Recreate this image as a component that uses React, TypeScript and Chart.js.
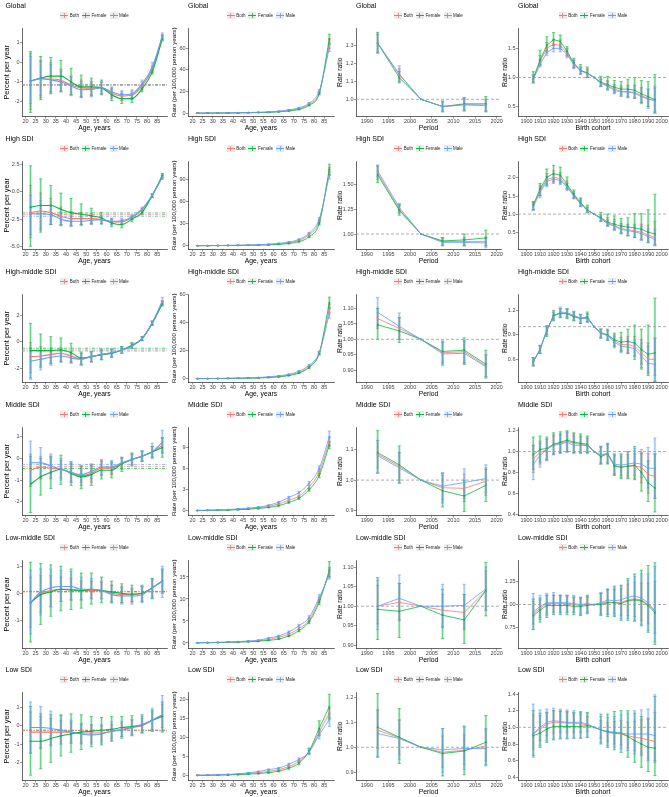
import React, { useEffect, useRef } from "react";
import { Chart, registerables } from "chart.js";
Chart.register(...registerables);

// ---------------- shared categories / ticks ----------------
const ageMid = [22.5, 27.5, 32.5, 37.5, 42.5, 47.5, 52.5, 57.5, 62.5, 67.5, 72.5, 77.5, 82.5, 87.5];
const periodMid = [1992.5, 1997.5, 2002.5, 2007.5, 2012.5, 2017.5];
const cohortMid = [1905, 1910, 1915, 1920, 1925, 1930, 1935, 1940, 1945, 1950, 1955, 1960, 1965, 1970, 1975, 1980, 1985, 1990, 1995];
const ageTicks = [20, 25, 30, 35, 40, 45, 50, 55, 60, 65, 70, 75, 80, 85];
const periodTicks = [1990, 1995, 2000, 2005, 2010, 2015, 2020];
const cohortTicks = [1900, 1910, 1920, 1930, 1940, 1950, 1960, 1970, 1980, 1990, 2000];
const regionNames = ["Global", "High SDI", "High-middle SDI", "Middle SDI", "Low-middle SDI", "Low SDI"];
const seriesNames = ["Both", "Female", "Male"];
const refRatio = 1;

// ---------------- GLOBAL ----------------
const globalDriftRange = [-2.76, 1.75];
const globalDriftTicks = [-2, -1, 0, 1];
const globalNetDrift = [-1.15, -1.16, -1.14];
const globalDriftBoth = [-0.95, -0.85, -0.85, -0.92, -1.15, -1.3, -1.32, -1.3, -1.58, -1.72, -1.68, -1.2, -0.35, 1.28];
const globalDriftBothLo = [-2.4, -1.8, -1.55, -1.45, -1.65, -1.75, -1.65, -1.6, -1.85, -1.95, -1.9, -1.4, -0.5, 1.15];
const globalDriftBothHi = [0.45, 0.1, 0.0, -0.35, -0.7, -0.9, -1.0, -1.0, -1.3, -1.5, -1.45, -1.0, -0.2, 1.42];
const globalDriftFemale = [-0.95, -0.8, -0.7, -0.7, -1.0, -1.25, -1.25, -1.3, -1.65, -1.85, -1.85, -1.35, -0.5, 1.2];
const globalDriftFemaleLo = [-2.55, -1.9, -1.6, -1.5, -1.65, -1.8, -1.7, -1.65, -1.95, -2.1, -2.05, -1.5, -0.6, 1.1];
const globalDriftFemaleHi = [0.55, 0.3, 0.25, 0.1, -0.3, -0.65, -0.8, -0.9, -1.35, -1.6, -1.6, -1.15, -0.35, 1.35];
const globalDriftMale = [-0.95, -0.82, -0.9, -1.0, -1.2, -1.4, -1.38, -1.3, -1.5, -1.65, -1.6, -1.1, -0.25, 1.35];
const globalDriftMaleLo = [-2.1, -1.7, -1.5, -1.5, -1.7, -1.75, -1.75, -1.6, -1.75, -1.85, -1.8, -1.3, -0.45, 1.2];
const globalDriftMaleHi = [0.3, 0.05, -0.1, -0.45, -0.75, -1.0, -1.0, -1.0, -1.25, -1.45, -1.4, -0.9, 0.0, 1.5];

const globalAgeRange = [-3, 78.7];
const globalAgeTicks = [0, 20, 40, 60];
const globalAgeBoth = [0.1, 0.15, 0.2, 0.3, 0.4, 0.55, 0.75, 1.0, 1.6, 2.6, 4.2, 8.2, 19, 64];
const globalAgeBothLo = [0.08, 0.12, 0.17, 0.26, 0.35, 0.5, 0.7, 0.9, 1.45, 2.4, 3.9, 7.6, 17.8, 60];
const globalAgeBothHi = [0.12, 0.18, 0.23, 0.34, 0.45, 0.6, 0.8, 1.1, 1.75, 2.8, 4.5, 8.8, 20.2, 69];
const globalAgeFemale = [0.08, 0.12, 0.17, 0.25, 0.35, 0.45, 0.6, 0.85, 1.3, 2.1, 3.5, 7.4, 18.2, 68.5];
const globalAgeFemaleLo = [0.06, 0.1, 0.14, 0.21, 0.3, 0.4, 0.55, 0.75, 1.15, 1.9, 3.2, 6.8, 17, 64];
const globalAgeFemaleHi = [0.1, 0.14, 0.2, 0.29, 0.4, 0.5, 0.65, 0.95, 1.45, 2.3, 3.8, 8.0, 19.4, 73];
const globalAgeMale = [0.12, 0.18, 0.25, 0.35, 0.5, 0.65, 0.9, 1.2, 1.9, 3.1, 5.0, 9.2, 20.5, 60];
const globalAgeMaleLo = [0.1, 0.15, 0.21, 0.3, 0.44, 0.58, 0.82, 1.1, 1.75, 2.85, 4.6, 8.5, 19.2, 57];
const globalAgeMaleHi = [0.14, 0.21, 0.29, 0.4, 0.56, 0.72, 0.98, 1.3, 2.05, 3.35, 5.4, 9.9, 21.8, 64];

const globalPeriodRange = [0.905, 1.394];
const globalPeriodTicks = [1.0, 1.1, 1.2, 1.3];
const globalPeriodBoth = [1.31, 1.135, 1.0, 0.96, 0.97, 0.965];
const globalPeriodBothLo = [1.26, 1.1, 1.0, 0.935, 0.94, 0.935];
const globalPeriodBothHi = [1.36, 1.17, 1.0, 0.985, 1.005, 1.0];
const globalPeriodFemale = [1.31, 1.12, 1.0, 0.96, 0.975, 0.975];
const globalPeriodFemaleLo = [1.255, 1.09, 1.0, 0.93, 0.935, 0.93];
const globalPeriodFemaleHi = [1.37, 1.155, 1.0, 0.99, 1.01, 1.015];
const globalPeriodMale = [1.31, 1.14, 1.0, 0.96, 0.97, 0.968];
const globalPeriodMaleLo = [1.26, 1.1, 1.0, 0.935, 0.94, 0.935];
const globalPeriodMaleHi = [1.36, 1.185, 1.0, 0.99, 1.005, 1.0];

const globalCohortRange = [0.33, 1.85];
const globalCohortTicks = [0.5, 1.0, 1.5];
const globalCohortBoth = [0.97, 1.27, 1.5, 1.57, 1.55, 1.42, 1.23, 1.12, 1.07, 1.0, 0.9, 0.86, 0.8, 0.76, 0.76, 0.74, 0.69, 0.64, 0.6];
const globalCohortBothLo = [0.92, 1.2, 1.42, 1.5, 1.48, 1.36, 1.17, 1.06, 1.0, 1.0, 0.85, 0.8, 0.73, 0.68, 0.66, 0.64, 0.57, 0.5, 0.42];
const globalCohortBothHi = [1.05, 1.38, 1.6, 1.66, 1.65, 1.5, 1.3, 1.18, 1.15, 1.0, 0.98, 0.95, 0.88, 0.86, 0.87, 0.87, 0.83, 0.8, 0.82];
const globalCohortFemale = [0.98, 1.3, 1.55, 1.65, 1.62, 1.45, 1.25, 1.12, 1.08, 1.0, 0.92, 0.88, 0.83, 0.8, 0.8, 0.78, 0.72, 0.67, 0.62];
const globalCohortFemaleLo = [0.92, 1.22, 1.45, 1.55, 1.52, 1.38, 1.17, 1.06, 1.0, 1.0, 0.85, 0.8, 0.75, 0.7, 0.67, 0.65, 0.57, 0.5, 0.4];
const globalCohortFemaleHi = [1.1, 1.47, 1.7, 1.77, 1.73, 1.53, 1.33, 1.22, 1.18, 1.0, 1.02, 1.02, 0.95, 0.93, 0.97, 1.0, 0.95, 0.93, 1.05];
const globalCohortMale = [0.97, 1.22, 1.43, 1.5, 1.5, 1.4, 1.22, 1.12, 1.07, 1.0, 0.9, 0.85, 0.78, 0.75, 0.75, 0.73, 0.67, 0.63, 0.6];
const globalCohortMaleLo = [0.9, 1.18, 1.38, 1.44, 1.44, 1.34, 1.15, 1.06, 1.0, 1.0, 0.84, 0.78, 0.72, 0.67, 0.65, 0.64, 0.55, 0.47, 0.38];
const globalCohortMaleHi = [1.05, 1.3, 1.5, 1.57, 1.57, 1.47, 1.3, 1.18, 1.14, 1.0, 0.97, 0.93, 0.85, 0.83, 0.86, 0.86, 0.82, 0.8, 0.85];

// ---------------- HIGH SDI ----------------
const highDriftRange = [-5.29, 2.84];
const highDriftTicks = [-5, -2.5, 0, 2.5];
const highNetDrift = [-2.08, -1.93, -2.24];
const highDriftBoth = [-1.9, -1.75, -1.9, -2.25, -2.45, -2.45, -2.45, -2.55, -2.75, -2.75, -2.35, -1.65, -0.35, 1.45];
const highDriftBothLo = [-4.2, -3.5, -3.0, -3.1, -3.1, -3.0, -2.95, -2.9, -3.0, -3.0, -2.55, -1.8, -0.5, 1.25];
const highDriftBothHi = [0.6, -0.1, -0.6, -1.4, -1.8, -1.9, -2.0, -2.2, -2.5, -2.5, -2.15, -1.5, -0.2, 1.65];
const highDriftFemale = [-1.4, -1.25, -1.25, -1.6, -1.9, -2.05, -2.2, -2.4, -2.85, -3.0, -2.5, -1.9, -0.35, 1.5];
const highDriftFemaleLo = [-5.0, -3.7, -3.0, -3.0, -3.1, -3.0, -2.9, -2.95, -3.2, -3.3, -2.75, -2.1, -0.5, 1.3];
const highDriftFemaleHi = [2.4, 1.2, 0.6, -0.1, -0.6, -1.1, -1.5, -1.9, -2.5, -2.7, -2.25, -1.7, -0.2, 1.7];
const highDriftMale = [-2.0, -2.0, -2.1, -2.5, -2.7, -2.7, -2.6, -2.55, -2.7, -2.65, -2.3, -1.55, -0.3, 1.35];
const highDriftMaleLo = [-3.9, -3.4, -3.0, -3.1, -3.2, -3.1, -3.0, -2.95, -3.0, -2.95, -2.5, -1.7, -0.45, 1.15];
const highDriftMaleHi = [-0.3, -0.8, -1.2, -1.9, -2.2, -2.3, -2.2, -2.2, -2.4, -2.4, -2.1, -1.4, -0.15, 1.55];

const highAgeRange = [-5.1, 114.3];
const highAgeTicks = [0, 30, 60, 90];
const highAgeBoth = [0.1, 0.15, 0.25, 0.35, 0.5, 0.7, 1, 1.5, 2.5, 4, 7, 15, 33, 100];
const highAgeBothLo = [0.08, 0.13, 0.22, 0.31, 0.45, 0.63, 0.9, 1.35, 2.3, 3.7, 6.5, 14, 31, 95];
const highAgeBothHi = [0.12, 0.17, 0.28, 0.39, 0.55, 0.77, 1.1, 1.65, 2.7, 4.3, 7.5, 16, 35, 106];
const highAgeFemale = [0.08, 0.12, 0.2, 0.3, 0.4, 0.55, 0.8, 1.1, 1.8, 3, 5.5, 12, 30, 103];
const highAgeFemaleLo = [0.06, 0.1, 0.17, 0.26, 0.35, 0.48, 0.7, 1.0, 1.6, 2.7, 5, 11, 28, 96];
const highAgeFemaleHi = [0.1, 0.14, 0.23, 0.34, 0.45, 0.62, 0.9, 1.2, 2.0, 3.3, 6, 13, 32, 110];
const highAgeMale = [0.12, 0.2, 0.3, 0.45, 0.65, 0.9, 1.3, 2, 3.2, 5, 8.5, 17, 36, 95];
const highAgeMaleLo = [0.1, 0.17, 0.26, 0.4, 0.58, 0.8, 1.15, 1.8, 2.9, 4.6, 7.9, 16, 34, 90];
const highAgeMaleHi = [0.14, 0.23, 0.34, 0.5, 0.72, 1.0, 1.45, 2.2, 3.5, 5.4, 9.1, 18, 38, 100];

const highPeriodRange = [0.843, 1.74];
const highPeriodTicks = [1.0, 1.25, 1.5];
const highPeriodBoth = [1.62, 1.25, 1.0, 0.925, 0.925, 0.925];
const highPeriodBothLo = [1.55, 1.21, 1.0, 0.89, 0.885, 0.88];
const highPeriodBothHi = [1.69, 1.29, 1.0, 0.96, 0.965, 0.97];
const highPeriodFemale = [1.6, 1.24, 1.0, 0.93, 0.94, 0.96];
const highPeriodFemaleLo = [1.52, 1.19, 1.0, 0.885, 0.88, 0.88];
const highPeriodFemaleHi = [1.69, 1.3, 1.0, 0.965, 1.0, 1.04];
const highPeriodMale = [1.64, 1.27, 1.0, 0.915, 0.915, 0.91];
const highPeriodMaleLo = [1.58, 1.22, 1.0, 0.88, 0.88, 0.86];
const highPeriodMaleHi = [1.7, 1.31, 1.0, 0.95, 0.95, 0.96];

const highCohortRange = [0.02, 2.47];
const highCohortTicks = [0.5, 1.0, 1.5, 2.0];
const highCohortBoth = [1.23, 1.65, 1.95, 2.02, 1.98, 1.78, 1.52, 1.3, 1.1, 1.0, 0.88, 0.75, 0.68, 0.6, 0.57, 0.54, 0.5, 0.42, 0.35];
const highCohortBothLo = [1.12, 1.5, 1.8, 1.88, 1.85, 1.68, 1.43, 1.22, 1.04, 1.0, 0.8, 0.67, 0.56, 0.46, 0.4, 0.35, 0.3, 0.22, 0.15];
const highCohortBothHi = [1.32, 1.8, 2.12, 2.2, 2.15, 1.92, 1.62, 1.42, 1.2, 1.0, 0.98, 0.9, 0.85, 0.75, 0.72, 0.72, 0.72, 0.7, 0.8];
const highCohortFemale = [1.25, 1.7, 2.02, 2.12, 2.08, 1.82, 1.55, 1.32, 1.12, 1.0, 0.9, 0.78, 0.72, 0.67, 0.64, 0.62, 0.58, 0.5, 0.45];
const highCohortFemaleLo = [1.12, 1.52, 1.8, 1.9, 1.88, 1.7, 1.45, 1.22, 1.05, 1.0, 0.8, 0.68, 0.58, 0.48, 0.4, 0.36, 0.28, 0.22, 0.14];
const highCohortFemaleHi = [1.35, 1.85, 2.25, 2.35, 2.3, 2.03, 1.67, 1.45, 1.25, 1.0, 1.05, 1.0, 0.95, 0.88, 0.9, 1.02, 1.02, 1.12, 1.55];
const highCohortMale = [1.2, 1.6, 1.9, 1.97, 1.93, 1.75, 1.5, 1.28, 1.1, 1.0, 0.87, 0.74, 0.66, 0.58, 0.54, 0.51, 0.46, 0.38, 0.3];
const highCohortMaleLo = [1.1, 1.45, 1.75, 1.85, 1.82, 1.65, 1.42, 1.2, 1.03, 1.0, 0.8, 0.66, 0.55, 0.45, 0.4, 0.35, 0.28, 0.2, 0.12];
const highCohortMaleHi = [1.3, 1.75, 2.05, 2.1, 2.05, 1.85, 1.58, 1.38, 1.18, 1.0, 0.95, 0.85, 0.8, 0.72, 0.7, 0.68, 0.65, 0.6, 0.58];

// ---------------- HIGH-MIDDLE SDI ----------------
const highMidDriftRange = [-3.04, 3.6];
const highMidDriftTicks = [-2, 0, 2];
const highMidNetDrift = [-0.6, -0.47, -0.68];
const highMidDriftBoth = [-1.1, -1.05, -0.95, -0.85, -1.05, -1.25, -1.1, -0.95, -0.85, -0.6, -0.3, 0.25, 1.4, 2.95];
const highMidDriftBothLo = [-2.3, -1.8, -1.65, -1.45, -1.55, -1.7, -1.5, -1.3, -1.15, -0.85, -0.5, 0.1, 1.25, 2.8];
const highMidDriftBothHi = [-0.05, -0.35, -0.45, -0.45, -0.7, -0.85, -0.75, -0.65, -0.55, -0.35, -0.1, 0.4, 1.55, 3.1];
const highMidDriftFemale = [-0.65, -0.65, -0.65, -0.6, -0.8, -1.2, -1.1, -0.95, -0.85, -0.6, -0.25, 0.25, 1.4, 2.85];
const highMidDriftFemaleLo = [-2.7, -1.9, -1.6, -1.5, -1.5, -1.7, -1.5, -1.35, -1.15, -0.85, -0.45, 0.1, 1.25, 2.7];
const highMidDriftFemaleHi = [1.4, 0.6, 0.4, 0.3, -0.1, -0.75, -0.7, -0.55, -0.55, -0.35, -0.05, 0.4, 1.55, 3.05];
const highMidDriftMale = [-1.45, -1.3, -1.15, -1.05, -1.2, -1.3, -1.1, -0.95, -0.8, -0.6, -0.3, 0.25, 1.45, 3.05];
const highMidDriftMaleLo = [-2.8, -2.1, -1.75, -1.5, -1.6, -1.75, -1.5, -1.3, -1.1, -0.85, -0.5, 0.1, 1.3, 2.85];
const highMidDriftMaleHi = [-0.45, -0.65, -0.65, -0.6, -0.85, -0.9, -0.75, -0.6, -0.5, -0.35, -0.1, 0.4, 1.6, 3.35];

const highMidAgeRange = [-2.7, 60.2];
const highMidAgeTicks = [0, 20, 40, 60];
const highMidAgeBoth = [0.07, 0.1, 0.15, 0.22, 0.3, 0.45, 0.65, 1.0, 1.6, 2.6, 4.5, 8.5, 18, 50];
const highMidAgeBothLo = [0.06, 0.08, 0.13, 0.19, 0.26, 0.4, 0.58, 0.9, 1.45, 2.4, 4.1, 7.8, 17, 47];
const highMidAgeBothHi = [0.08, 0.12, 0.17, 0.25, 0.34, 0.5, 0.72, 1.1, 1.75, 2.8, 4.9, 9.2, 19, 53];
const highMidAgeFemale = [0.05, 0.07, 0.12, 0.18, 0.25, 0.35, 0.5, 0.8, 1.3, 2.2, 4, 8, 18, 54];
const highMidAgeFemaleLo = [0.04, 0.06, 0.1, 0.15, 0.22, 0.3, 0.45, 0.7, 1.15, 2.0, 3.6, 7.3, 17, 50];
const highMidAgeFemaleHi = [0.06, 0.09, 0.14, 0.21, 0.3, 0.4, 0.55, 0.9, 1.45, 2.4, 4.4, 8.7, 19, 58];
const highMidAgeMale = [0.09, 0.13, 0.19, 0.28, 0.4, 0.6, 0.85, 1.3, 2.0, 3.1, 5.3, 9.5, 18.5, 46];
const highMidAgeMaleLo = [0.07, 0.11, 0.16, 0.24, 0.35, 0.53, 0.76, 1.15, 1.8, 2.85, 4.9, 8.8, 17.5, 43];
const highMidAgeMaleHi = [0.11, 0.15, 0.22, 0.32, 0.45, 0.67, 0.94, 1.45, 2.2, 3.35, 5.7, 10.2, 19.5, 50];

const highMidPeriodRange = [0.861, 1.146];
const highMidPeriodTicks = [0.9, 0.95, 1.0, 1.05, 1.1];
const highMidPeriodBoth = [1.067, 1.035, 1.0, 0.957, 0.96, 0.915];
const highMidPeriodBothLo = [1.035, 1.0, 1.0, 0.925, 0.925, 0.88];
const highMidPeriodBothHi = [1.1, 1.07, 1.0, 0.99, 0.995, 0.95];
const highMidPeriodFemale = [1.047, 1.027, 1.0, 0.961, 0.965, 0.92];
const highMidPeriodFemaleLo = [1.0, 0.99, 1.0, 0.92, 0.92, 0.875];
const highMidPeriodFemaleHi = [1.1, 1.07, 1.0, 0.995, 1.005, 0.965];
const highMidPeriodMale = [1.087, 1.042, 1.0, 0.953, 0.955, 0.912];
const highMidPeriodMaleLo = [1.04, 1.0, 1.0, 0.915, 0.92, 0.88];
const highMidPeriodMaleHi = [1.135, 1.085, 1.0, 0.99, 0.995, 0.95];

const highMidCohortRange = [0.316, 1.4];
const highMidCohortTicks = [0.6, 0.9, 1.2];
const highMidCohortBoth = [0.57, 0.72, 0.95, 1.13, 1.17, 1.16, 1.13, 1.1, 1.11, 1.0, 0.93, 0.9, 0.83, 0.78, 0.78, 0.76, 0.68, 0.6, 0.6];
const highMidCohortBothLo = [0.52, 0.67, 0.9, 1.08, 1.12, 1.11, 1.08, 1.04, 1.06, 1.0, 0.87, 0.84, 0.76, 0.7, 0.68, 0.64, 0.54, 0.44, 0.4];
const highMidCohortBothHi = [0.62, 0.77, 1.0, 1.18, 1.22, 1.21, 1.18, 1.15, 1.16, 1.0, 0.97, 0.95, 0.9, 0.87, 0.88, 0.88, 0.84, 0.8, 0.86];
const highMidCohortFemale = [0.57, 0.72, 0.95, 1.14, 1.16, 1.16, 1.12, 1.1, 1.12, 1.0, 0.92, 0.9, 0.84, 0.81, 0.82, 0.8, 0.72, 0.66, 0.68];
const highMidCohortFemaleLo = [0.52, 0.67, 0.88, 1.08, 1.11, 1.1, 1.07, 1.04, 1.06, 1.0, 0.86, 0.83, 0.76, 0.7, 0.67, 0.6, 0.48, 0.4, 0.33];
const highMidCohortFemaleHi = [0.62, 0.77, 1.01, 1.2, 1.22, 1.22, 1.18, 1.15, 1.18, 1.0, 0.97, 0.97, 0.92, 0.93, 0.97, 1.02, 0.97, 1.02, 1.35];
const highMidCohortMale = [0.57, 0.72, 0.96, 1.12, 1.18, 1.17, 1.14, 1.1, 1.1, 1.0, 0.92, 0.89, 0.81, 0.76, 0.75, 0.73, 0.64, 0.55, 0.54];
const highMidCohortMaleLo = [0.52, 0.67, 0.9, 1.07, 1.12, 1.12, 1.08, 1.04, 1.05, 1.0, 0.86, 0.83, 0.74, 0.68, 0.67, 0.63, 0.5, 0.42, 0.33];
const highMidCohortMaleHi = [0.62, 0.77, 1.01, 1.17, 1.24, 1.22, 1.19, 1.15, 1.15, 1.0, 0.97, 0.95, 0.88, 0.84, 0.85, 0.84, 0.8, 0.76, 0.86];

// ---------------- MIDDLE SDI ----------------
const midDriftRange = [-2.64, 1.45];
const midDriftTicks = [-2, -1, 0, 1];
const midNetDrift = [-0.38, -0.47, -0.28];
const midDriftBoth = [-0.55, -0.4, -0.45, -0.5, -0.65, -0.8, -0.7, -0.45, -0.45, -0.25, -0.05, 0.1, 0.3, 0.6];
const midDriftBothLo = [-1.3, -0.95, -0.95, -0.9, -1.1, -1.25, -1.1, -0.8, -0.75, -0.5, -0.3, -0.1, 0.05, 0.25];
const midDriftBothHi = [0.2, 0.1, 0.05, -0.1, -0.25, -0.35, -0.3, -0.1, -0.15, 0.0, 0.2, 0.3, 0.55, 0.95];
const midDriftFemale = [-1.2, -0.85, -0.65, -0.5, -0.7, -0.85, -0.75, -0.55, -0.55, -0.25, -0.05, 0.1, 0.3, 0.5];
const midDriftFemaleLo = [-2.5, -1.7, -1.4, -1.2, -1.25, -1.4, -1.25, -0.95, -0.9, -0.6, -0.35, -0.15, 0.05, 0.05];
const midDriftFemaleHi = [0.1, 0.0, 0.1, 0.15, -0.15, -0.35, -0.3, -0.15, -0.2, 0.05, 0.25, 0.35, 0.55, 0.95];
const midDriftMale = [-0.2, -0.2, -0.35, -0.5, -0.65, -0.75, -0.6, -0.4, -0.4, -0.2, -0.05, 0.1, 0.3, 0.75];
const midDriftMaleLo = [-1.1, -0.9, -0.9, -1.0, -1.1, -1.1, -0.95, -0.75, -0.7, -0.45, -0.3, -0.15, 0.0, 0.25];
const midDriftMaleHi = [0.8, 0.5, 0.2, 0.0, -0.2, -0.35, -0.25, -0.05, -0.1, 0.05, 0.2, 0.35, 0.7, 1.3];

const midAgeRange = [-0.64, 11.87];
const midAgeTicks = [0, 3, 6, 9];
const midAgeBoth = [0.07, 0.09, 0.12, 0.16, 0.22, 0.3, 0.45, 0.65, 1.0, 1.5, 2.1, 3.4, 5.5, 9.8];
const midAgeBothLo = [0.06, 0.08, 0.11, 0.14, 0.2, 0.27, 0.41, 0.6, 0.92, 1.4, 1.95, 3.2, 5.2, 9.2];
const midAgeBothHi = [0.08, 0.1, 0.13, 0.18, 0.24, 0.33, 0.49, 0.7, 1.08, 1.6, 2.25, 3.6, 5.8, 10.4];
const midAgeFemale = [0.06, 0.08, 0.1, 0.13, 0.18, 0.25, 0.35, 0.5, 0.75, 1.2, 1.8, 3.0, 5.0, 9.3];
const midAgeFemaleLo = [0.05, 0.07, 0.09, 0.11, 0.16, 0.22, 0.31, 0.45, 0.68, 1.1, 1.65, 2.8, 4.7, 8.8];
const midAgeFemaleHi = [0.07, 0.09, 0.11, 0.15, 0.2, 0.28, 0.39, 0.55, 0.82, 1.3, 1.95, 3.2, 5.3, 9.8];
const midAgeMale = [0.08, 0.1, 0.14, 0.2, 0.3, 0.4, 0.55, 0.8, 1.25, 1.9, 2.6, 3.9, 6.0, 10.5];
const midAgeMaleLo = [0.07, 0.09, 0.12, 0.18, 0.27, 0.36, 0.5, 0.73, 1.15, 1.75, 2.4, 3.65, 5.6, 9.8];
const midAgeMaleHi = [0.09, 0.11, 0.16, 0.22, 0.33, 0.44, 0.6, 0.87, 1.35, 2.05, 2.8, 4.15, 6.4, 11.3];

const midPeriodRange = [0.884, 1.174];
const midPeriodTicks = [0.9, 1.0, 1.1];
const midPeriodBoth = [1.085, 1.045, 1.0, 0.975, 0.973, 0.996];
const midPeriodBothLo = [1.04, 1.0, 1.0, 0.935, 0.93, 0.95];
const midPeriodBothHi = [1.13, 1.09, 1.0, 1.015, 1.02, 1.04];
const midPeriodFemale = [1.09, 1.05, 1.0, 0.965, 0.948, 0.983];
const midPeriodFemaleLo = [1.022, 0.99, 1.0, 0.912, 0.897, 0.93];
const midPeriodFemaleHi = [1.163, 1.112, 1.0, 1.022, 1.0, 1.035];
const midPeriodMale = [1.08, 1.04, 1.0, 0.98, 0.992, 1.005];
const midPeriodMaleLo = [1.025, 0.99, 1.0, 0.925, 0.94, 0.96];
const midPeriodMaleHi = [1.13, 1.09, 1.0, 1.025, 1.037, 1.05];

const midCohortRange = [0.386, 1.236];
const midCohortTicks = [0.4, 0.6, 0.8, 1.0, 1.2];
const midCohortBoth = [0.93, 0.99, 1.02, 1.07, 1.08, 1.1, 1.08, 1.07, 1.06, 1.0, 0.96, 0.98, 0.87, 0.85, 0.86, 0.86, 0.85, 0.78, 0.76];
const midCohortBothLo = [0.8, 0.88, 0.92, 0.98, 0.99, 1.0, 0.99, 0.99, 0.99, 1.0, 0.88, 0.89, 0.78, 0.75, 0.75, 0.74, 0.7, 0.6, 0.55];
const midCohortBothHi = [1.06, 1.1, 1.12, 1.16, 1.17, 1.19, 1.17, 1.15, 1.13, 1.0, 1.04, 1.07, 0.96, 0.95, 0.97, 0.98, 0.99, 0.98, 0.97];
const midCohortFemale = [0.97, 1.02, 1.03, 1.07, 1.09, 1.11, 1.09, 1.08, 1.07, 1.0, 0.95, 0.98, 0.86, 0.85, 0.86, 0.87, 0.8, 0.7, 0.65];
const midCohortFemaleLo = [0.83, 0.9, 0.92, 0.97, 0.99, 1.0, 0.99, 0.99, 0.99, 1.0, 0.88, 0.88, 0.77, 0.74, 0.74, 0.73, 0.62, 0.52, 0.42];
const midCohortFemaleHi = [1.14, 1.15, 1.14, 1.18, 1.19, 1.2, 1.18, 1.17, 1.15, 1.0, 1.05, 1.08, 0.97, 0.97, 1.0, 1.05, 0.98, 0.91, 0.98];
const midCohortMale = [0.88, 0.96, 1.02, 1.06, 1.07, 1.09, 1.06, 1.06, 1.06, 1.0, 0.97, 0.98, 0.88, 0.87, 0.88, 0.89, 0.88, 0.84, 0.84];
const midCohortMaleLo = [0.73, 0.85, 0.91, 0.97, 0.98, 0.99, 0.98, 0.98, 0.98, 1.0, 0.89, 0.89, 0.79, 0.77, 0.77, 0.77, 0.75, 0.65, 0.55];
const midCohortMaleHi = [1.06, 1.08, 1.12, 1.15, 1.16, 1.18, 1.15, 1.14, 1.13, 1.0, 1.05, 1.07, 0.98, 0.98, 1.0, 1.03, 1.02, 1.04, 1.13];

// ---------------- LOW-MIDDLE SDI ----------------
const lowMidDriftRange = [-2.04, 1.23];
const lowMidDriftTicks = [-1, 0, 1];
const lowMidNetDrift = [0.05, 0.06, 0.07];
const lowMidDriftBoth = [-0.35, 0.0, 0.1, 0.15, 0.15, 0.1, 0.1, 0.1, 0.0, -0.05, -0.05, 0.0, 0.2, 0.45];
const lowMidDriftBothLo = [-1.25, -0.7, -0.5, -0.3, -0.25, -0.25, -0.2, -0.2, -0.3, -0.35, -0.35, -0.3, -0.15, 0.05];
const lowMidDriftBothHi = [0.6, 0.65, 0.65, 0.6, 0.55, 0.45, 0.45, 0.4, 0.3, 0.25, 0.2, 0.25, 0.5, 0.85];
const lowMidDriftFemale = [-0.35, -0.05, 0.05, 0.15, 0.12, 0.1, 0.15, 0.1, 0.05, 0.0, -0.03, 0.0, 0.2, 0.45];
const lowMidDriftFemaleLo = [-1.8, -1.15, -0.85, -0.65, -0.6, -0.55, -0.4, -0.35, -0.35, -0.35, -0.3, -0.3, -0.2, 0.0];
const lowMidDriftFemaleHi = [1.15, 1.1, 1.05, 1.0, 0.9, 0.75, 0.75, 0.6, 0.45, 0.35, 0.3, 0.3, 0.55, 0.9];
const lowMidDriftMale = [-0.35, 0.05, 0.2, 0.25, 0.25, 0.15, 0.15, 0.1, -0.05, -0.1, -0.1, -0.05, 0.2, 0.45];
const lowMidDriftMaleLo = [-1.5, -0.8, -0.5, -0.3, -0.25, -0.25, -0.2, -0.2, -0.35, -0.4, -0.4, -0.35, -0.2, -0.15];
const lowMidDriftMaleHi = [0.85, 0.9, 0.9, 0.85, 0.8, 0.6, 0.55, 0.45, 0.3, 0.2, 0.15, 0.25, 0.55, 1.0];

const lowMidAgeRange = [-1.25, 18.86];
const lowMidAgeTicks = [0, 5, 10, 15];
const lowMidAgeBoth = [0.06, 0.09, 0.12, 0.18, 0.25, 0.35, 0.5, 0.8, 1.3, 2.0, 3.3, 5.2, 9.8, 16];
const lowMidAgeBothLo = [0.05, 0.08, 0.1, 0.15, 0.22, 0.31, 0.45, 0.72, 1.18, 1.85, 3.05, 4.85, 9.2, 15];
const lowMidAgeBothHi = [0.07, 0.1, 0.14, 0.21, 0.28, 0.39, 0.55, 0.88, 1.42, 2.15, 3.55, 5.55, 10.4, 17.2];
const lowMidAgeFemale = [0.05, 0.07, 0.1, 0.15, 0.2, 0.28, 0.4, 0.6, 0.9, 1.6, 2.8, 4.8, 9.3, 16.5];
const lowMidAgeFemaleLo = [0.04, 0.06, 0.08, 0.12, 0.17, 0.24, 0.35, 0.52, 0.8, 1.45, 2.55, 4.4, 8.7, 15];
const lowMidAgeFemaleHi = [0.06, 0.08, 0.12, 0.18, 0.23, 0.32, 0.45, 0.68, 1.0, 1.75, 3.05, 5.2, 9.9, 18.5];
const lowMidAgeMale = [0.08, 0.11, 0.15, 0.22, 0.32, 0.45, 0.65, 1.1, 1.6, 2.5, 3.9, 5.8, 10.3, 15.5];
const lowMidAgeMaleLo = [0.07, 0.09, 0.13, 0.19, 0.28, 0.4, 0.58, 1.0, 1.45, 2.3, 3.6, 5.4, 9.6, 14.5];
const lowMidAgeMaleHi = [0.09, 0.13, 0.17, 0.25, 0.36, 0.5, 0.72, 1.2, 1.75, 2.7, 4.2, 6.2, 11, 17];

const lowMidPeriodRange = [0.892, 1.118];
const lowMidPeriodTicks = [0.9, 0.95, 1.0, 1.05, 1.1];
const lowMidPeriodBoth = [1.0, 1.01, 1.0, 0.99, 0.984, 1.04];
const lowMidPeriodBothLo = [0.955, 0.963, 1.0, 0.945, 0.94, 0.99];
const lowMidPeriodBothHi = [1.053, 1.058, 1.0, 1.03, 1.03, 1.09];
const lowMidPeriodFemale = [0.992, 0.987, 1.0, 0.977, 0.965, 1.04];
const lowMidPeriodFemaleLo = [0.915, 0.92, 1.0, 0.917, 0.905, 0.975];
const lowMidPeriodFemaleHi = [1.073, 1.058, 1.0, 1.043, 1.03, 1.112];
const lowMidPeriodMale = [1.0, 1.02, 1.0, 1.0, 1.002, 1.044];
const lowMidPeriodMaleLo = [0.94, 0.965, 1.0, 0.948, 0.945, 0.99];
const lowMidPeriodMaleHi = [1.066, 1.08, 1.0, 1.056, 1.056, 1.1];

const lowMidCohortRange = [0.526, 1.48];
const lowMidCohortTicks = [0.75, 1.0, 1.25];
const lowMidCohortBoth = [0.9, 0.96, 1.01, 1.01, 1.01, 1.01, 1.0, 0.99, 1.0, 1.0, 1.01, 1.03, 1.02, 1.02, 1.05, 1.06, 1.05, 1.0, 0.93];
const lowMidCohortBothLo = [0.79, 0.86, 0.9, 0.92, 0.92, 0.92, 0.92, 0.9, 0.92, 1.0, 0.9, 0.9, 0.9, 0.88, 0.88, 0.87, 0.83, 0.79, 0.69];
const lowMidCohortBothHi = [1.03, 1.05, 1.1, 1.1, 1.1, 1.09, 1.08, 1.07, 1.09, 1.0, 1.12, 1.16, 1.16, 1.17, 1.22, 1.24, 1.23, 1.23, 1.25];
const lowMidCohortFemale = [0.88, 0.94, 0.99, 0.99, 0.99, 0.99, 0.98, 0.98, 0.99, 1.0, 1.0, 1.02, 1.02, 1.01, 1.04, 1.05, 1.04, 0.99, 0.91];
const lowMidCohortFemaleLo = [0.73, 0.81, 0.86, 0.89, 0.89, 0.89, 0.89, 0.88, 0.9, 1.0, 0.88, 0.87, 0.87, 0.83, 0.83, 0.82, 0.77, 0.7, 0.57];
const lowMidCohortFemaleHi = [1.06, 1.07, 1.1, 1.1, 1.1, 1.1, 1.08, 1.08, 1.1, 1.0, 1.12, 1.16, 1.2, 1.21, 1.28, 1.33, 1.37, 1.42, 1.45];
const lowMidCohortMale = [0.92, 0.98, 1.02, 1.02, 1.02, 1.02, 1.01, 1.0, 1.01, 1.0, 1.02, 1.05, 1.04, 1.05, 1.08, 1.09, 1.07, 1.02, 0.93];
const lowMidCohortMaleLo = [0.73, 0.84, 0.88, 0.91, 0.91, 0.91, 0.91, 0.89, 0.91, 1.0, 0.89, 0.89, 0.88, 0.85, 0.85, 0.83, 0.78, 0.72, 0.6];
const lowMidCohortMaleHi = [1.12, 1.1, 1.12, 1.13, 1.1, 1.1, 1.1, 1.07, 1.08, 1.0, 1.13, 1.17, 1.18, 1.2, 1.26, 1.3, 1.33, 1.33, 1.41];

// ---------------- LOW SDI ----------------
const lowDriftRange = [-2.99, 1.84];
const lowDriftTicks = [-2, -1, 0, 1];
const lowNetDrift = [-0.27, -0.25, -0.25];
const lowDriftBoth = [-0.35, -0.35, -0.35, -0.35, -0.35, -0.4, -0.4, -0.4, -0.3, -0.2, -0.1, 0.0, 0.3, 0.55];
const lowDriftBothLo = [-1.5, -1.25, -1.1, -1.0, -0.95, -0.95, -0.9, -0.85, -0.7, -0.6, -0.45, -0.35, -0.2, -0.1];
const lowDriftBothHi = [0.75, 0.5, 0.4, 0.3, 0.2, 0.1, 0.05, 0.0, 0.05, 0.15, 0.3, 0.4, 0.75, 1.15];
const lowDriftFemale = [-0.85, -0.85, -0.7, -0.55, -0.45, -0.35, -0.3, -0.25, -0.2, -0.1, -0.05, 0.05, 0.3, 0.5];
const lowDriftFemaleLo = [-2.7, -2.35, -2.0, -1.65, -1.45, -1.3, -1.15, -1.05, -0.85, -0.6, -0.55, -0.4, -0.3, -0.35];
const lowDriftFemaleHi = [1.05, 0.65, 0.6, 0.6, 0.65, 0.6, 0.5, 0.45, 0.5, 0.5, 0.55, 0.6, 0.85, 1.3];
const lowDriftMale = [-0.1, -0.1, -0.15, -0.25, -0.35, -0.45, -0.5, -0.45, -0.3, -0.25, -0.1, 0.05, 0.3, 0.6];
const lowDriftMaleLo = [-1.5, -1.2, -1.05, -1.0, -0.95, -1.0, -1.0, -0.95, -0.8, -0.7, -0.5, -0.4, -0.3, -0.3];
const lowDriftMaleHi = [1.3, 1.05, 0.8, 0.55, 0.3, 0.1, 0.05, 0.05, 0.2, 0.25, 0.35, 0.5, 0.95, 1.65];

const lowAgeRange = [-1.27, 22.1];
const lowAgeTicks = [0, 5, 10, 15, 20];
const lowAgeBoth = [0.1, 0.13, 0.2, 0.27, 0.4, 0.55, 0.8, 1.1, 1.6, 2.4, 3.8, 6.3, 11.5, 16.5];
const lowAgeBothLo = [0.08, 0.11, 0.17, 0.23, 0.35, 0.48, 0.7, 0.98, 1.45, 2.2, 3.5, 5.9, 10.7, 15.3];
const lowAgeBothHi = [0.12, 0.15, 0.23, 0.31, 0.45, 0.62, 0.9, 1.22, 1.75, 2.6, 4.1, 6.7, 12.3, 17.8];
const lowAgeFemale = [0.07, 0.1, 0.15, 0.2, 0.28, 0.4, 0.55, 0.8, 1.2, 2.0, 3.3, 6.5, 12.5, 18.2];
const lowAgeFemaleLo = [0.05, 0.08, 0.12, 0.16, 0.23, 0.33, 0.46, 0.68, 1.0, 1.7, 2.9, 5.7, 10.5, 15];
const lowAgeFemaleHi = [0.09, 0.12, 0.18, 0.24, 0.33, 0.47, 0.64, 0.92, 1.4, 2.3, 3.7, 7.3, 14.5, 21.5];
const lowAgeMale = [0.12, 0.17, 0.25, 0.35, 0.5, 0.75, 1.1, 1.6, 2.0, 3.0, 4.3, 6.2, 10.8, 14.8];
const lowAgeMaleLo = [0.1, 0.14, 0.21, 0.3, 0.43, 0.65, 0.97, 1.42, 1.8, 2.7, 3.9, 5.5, 9.7, 13];
const lowAgeMaleHi = [0.14, 0.2, 0.29, 0.4, 0.57, 0.85, 1.23, 1.78, 2.2, 3.3, 4.7, 7.2, 11.9, 16.5];

const lowPeriodRange = [0.867, 1.221];
const lowPeriodTicks = [0.9, 1.0, 1.1, 1.2];
const lowPeriodBoth = [1.068, 1.038, 1.0, 0.98, 0.988, 1.005];
const lowPeriodBothLo = [0.995, 0.97, 1.0, 0.92, 0.93, 0.945];
const lowPeriodBothHi = [1.148, 1.108, 1.0, 1.045, 1.05, 1.07];
const lowPeriodFemale = [1.08, 1.04, 1.0, 0.975, 0.985, 1.02];
const lowPeriodFemaleLo = [0.96, 0.935, 1.0, 0.885, 0.89, 0.93];
const lowPeriodFemaleHi = [1.215, 1.155, 1.0, 1.075, 1.085, 1.127];
const lowPeriodMale = [1.055, 1.035, 1.0, 0.99, 0.995, 0.995];
const lowPeriodMaleLo = [0.962, 0.95, 1.0, 0.9, 0.91, 0.925];
const lowPeriodMaleHi = [1.15, 1.11, 1.0, 1.075, 1.08, 1.075];

const lowCohortRange = [0.362, 1.424];
const lowCohortTicks = [0.4, 0.6, 0.8, 1.0, 1.2, 1.4];
const lowCohortBoth = [0.92, 0.98, 1.04, 1.06, 1.06, 1.05, 1.05, 1.04, 1.03, 1.0, 0.97, 0.94, 0.93, 0.92, 0.9, 0.88, 0.87, 0.85, 0.83];
const lowCohortBothLo = [0.74, 0.84, 0.9, 0.93, 0.94, 0.94, 0.94, 0.94, 0.95, 1.0, 0.87, 0.83, 0.8, 0.79, 0.75, 0.72, 0.68, 0.62, 0.58];
const lowCohortBothHi = [1.15, 1.14, 1.18, 1.2, 1.2, 1.18, 1.17, 1.16, 1.13, 1.0, 1.08, 1.06, 1.07, 1.08, 1.06, 1.07, 1.09, 1.11, 1.18];
const lowCohortFemale = [0.9, 0.93, 0.98, 1.01, 1.01, 1.01, 1.01, 1.01, 1.02, 1.0, 0.97, 0.95, 0.94, 0.93, 0.89, 0.84, 0.8, 0.76, 0.75];
const lowCohortFemaleLo = [0.66, 0.76, 0.82, 0.85, 0.86, 0.86, 0.87, 0.87, 0.88, 1.0, 0.8, 0.76, 0.73, 0.7, 0.64, 0.58, 0.52, 0.47, 0.42];
const lowCohortFemaleHi = [1.2, 1.17, 1.18, 1.2, 1.19, 1.19, 1.18, 1.18, 1.18, 1.0, 1.16, 1.16, 1.19, 1.2, 1.2, 1.17, 1.13, 1.1, 1.37];
const lowCohortMale = [0.92, 1.0, 1.06, 1.08, 1.07, 1.06, 1.06, 1.06, 1.04, 1.0, 0.97, 0.94, 0.93, 0.93, 0.92, 0.92, 0.92, 0.92, 0.9];
const lowCohortMaleLo = [0.64, 0.78, 0.84, 0.86, 0.87, 0.87, 0.87, 0.87, 0.88, 1.0, 0.82, 0.78, 0.76, 0.74, 0.72, 0.68, 0.66, 0.6, 0.6];
const lowCohortMaleHi = [1.28, 1.21, 1.22, 1.23, 1.22, 1.21, 1.2, 1.19, 1.17, 1.0, 1.13, 1.12, 1.13, 1.15, 1.17, 1.2, 1.21, 1.22, 1.39];

// ---------------- styling / layout ----------------
const COLORS = ["#F8766D", "#00BA38", "#619CFF"];
const FONT = '"Liberation Sans", Arial, Helvetica, sans-serif';
const ROW_TOPS = [0, 133, 266, 399, 532, 664];
const ROW_H = 133;
const PLOT_TOP = 28;
const PLOT_BOTTOM = 116.5;
const CANVAS_EXTRA = 6;

const COLS = [
  { left: 0, w: 167, yW: 22, rPad: 0, titleX: 5.5, xMin: 18.3, xMax: 89.8, xTicks: ageTicks, x: ageMid, yTitle: "Percent per year", xTitle: "Age, years", yTitleSize: 7.4, yTitlePad: 2.6 },
  { left: 167, w: 167, yW: 21, rPad: 0, titleX: 21, xMin: 17.8, xMax: 89.8, xTicks: ageTicks, x: ageMid, yTitle: "Rate (per 100,000 person years)", xTitle: "Age, years", yTitleSize: 6.2, yTitlePad: 3.2 },
  { left: 334, w: 167, yW: 22, rPad: 0, titleX: 22, xMin: 1987.5, xMax: 2021.0, xTicks: periodTicks, x: periodMid, yTitle: "Rate ratio", xTitle: "Period", yTitleSize: 6.8, yTitlePad: 2.4 },
  { left: 501, w: 168, yW: 17, rPad: 1, titleX: 17, xMin: 1893.7, xMax: 2004.7, xTicks: cohortTicks, x: cohortMid, yTitle: "Rate ratio", xTitle: "Birth cohort", yTitleSize: 6.8, yTitlePad: 0 },
];

type Spec = { range: number[]; ticks: number[]; vals: number[][]; lo: number[][]; hi: number[][]; net?: number[] };
const mk = (range: number[], ticks: number[], b: number[], bl: number[], bh: number[], f: number[], fl: number[], fh: number[], m: number[], ml: number[], mh: number[], net?: number[]): Spec =>
  ({ range, ticks, vals: [b, f, m], lo: [bl, fl, ml], hi: [bh, fh, mh], net });

const ROWS: Spec[][] = [
  [
    mk(globalDriftRange, globalDriftTicks, globalDriftBoth, globalDriftBothLo, globalDriftBothHi, globalDriftFemale, globalDriftFemaleLo, globalDriftFemaleHi, globalDriftMale, globalDriftMaleLo, globalDriftMaleHi, globalNetDrift),
    mk(globalAgeRange, globalAgeTicks, globalAgeBoth, globalAgeBothLo, globalAgeBothHi, globalAgeFemale, globalAgeFemaleLo, globalAgeFemaleHi, globalAgeMale, globalAgeMaleLo, globalAgeMaleHi),
    mk(globalPeriodRange, globalPeriodTicks, globalPeriodBoth, globalPeriodBothLo, globalPeriodBothHi, globalPeriodFemale, globalPeriodFemaleLo, globalPeriodFemaleHi, globalPeriodMale, globalPeriodMaleLo, globalPeriodMaleHi),
    mk(globalCohortRange, globalCohortTicks, globalCohortBoth, globalCohortBothLo, globalCohortBothHi, globalCohortFemale, globalCohortFemaleLo, globalCohortFemaleHi, globalCohortMale, globalCohortMaleLo, globalCohortMaleHi),
  ],
  [
    mk(highDriftRange, highDriftTicks, highDriftBoth, highDriftBothLo, highDriftBothHi, highDriftFemale, highDriftFemaleLo, highDriftFemaleHi, highDriftMale, highDriftMaleLo, highDriftMaleHi, highNetDrift),
    mk(highAgeRange, highAgeTicks, highAgeBoth, highAgeBothLo, highAgeBothHi, highAgeFemale, highAgeFemaleLo, highAgeFemaleHi, highAgeMale, highAgeMaleLo, highAgeMaleHi),
    mk(highPeriodRange, highPeriodTicks, highPeriodBoth, highPeriodBothLo, highPeriodBothHi, highPeriodFemale, highPeriodFemaleLo, highPeriodFemaleHi, highPeriodMale, highPeriodMaleLo, highPeriodMaleHi),
    mk(highCohortRange, highCohortTicks, highCohortBoth, highCohortBothLo, highCohortBothHi, highCohortFemale, highCohortFemaleLo, highCohortFemaleHi, highCohortMale, highCohortMaleLo, highCohortMaleHi),
  ],
  [
    mk(highMidDriftRange, highMidDriftTicks, highMidDriftBoth, highMidDriftBothLo, highMidDriftBothHi, highMidDriftFemale, highMidDriftFemaleLo, highMidDriftFemaleHi, highMidDriftMale, highMidDriftMaleLo, highMidDriftMaleHi, highMidNetDrift),
    mk(highMidAgeRange, highMidAgeTicks, highMidAgeBoth, highMidAgeBothLo, highMidAgeBothHi, highMidAgeFemale, highMidAgeFemaleLo, highMidAgeFemaleHi, highMidAgeMale, highMidAgeMaleLo, highMidAgeMaleHi),
    mk(highMidPeriodRange, highMidPeriodTicks, highMidPeriodBoth, highMidPeriodBothLo, highMidPeriodBothHi, highMidPeriodFemale, highMidPeriodFemaleLo, highMidPeriodFemaleHi, highMidPeriodMale, highMidPeriodMaleLo, highMidPeriodMaleHi),
    mk(highMidCohortRange, highMidCohortTicks, highMidCohortBoth, highMidCohortBothLo, highMidCohortBothHi, highMidCohortFemale, highMidCohortFemaleLo, highMidCohortFemaleHi, highMidCohortMale, highMidCohortMaleLo, highMidCohortMaleHi),
  ],
  [
    mk(midDriftRange, midDriftTicks, midDriftBoth, midDriftBothLo, midDriftBothHi, midDriftFemale, midDriftFemaleLo, midDriftFemaleHi, midDriftMale, midDriftMaleLo, midDriftMaleHi, midNetDrift),
    mk(midAgeRange, midAgeTicks, midAgeBoth, midAgeBothLo, midAgeBothHi, midAgeFemale, midAgeFemaleLo, midAgeFemaleHi, midAgeMale, midAgeMaleLo, midAgeMaleHi),
    mk(midPeriodRange, midPeriodTicks, midPeriodBoth, midPeriodBothLo, midPeriodBothHi, midPeriodFemale, midPeriodFemaleLo, midPeriodFemaleHi, midPeriodMale, midPeriodMaleLo, midPeriodMaleHi),
    mk(midCohortRange, midCohortTicks, midCohortBoth, midCohortBothLo, midCohortBothHi, midCohortFemale, midCohortFemaleLo, midCohortFemaleHi, midCohortMale, midCohortMaleLo, midCohortMaleHi),
  ],
  [
    mk(lowMidDriftRange, lowMidDriftTicks, lowMidDriftBoth, lowMidDriftBothLo, lowMidDriftBothHi, lowMidDriftFemale, lowMidDriftFemaleLo, lowMidDriftFemaleHi, lowMidDriftMale, lowMidDriftMaleLo, lowMidDriftMaleHi, lowMidNetDrift),
    mk(lowMidAgeRange, lowMidAgeTicks, lowMidAgeBoth, lowMidAgeBothLo, lowMidAgeBothHi, lowMidAgeFemale, lowMidAgeFemaleLo, lowMidAgeFemaleHi, lowMidAgeMale, lowMidAgeMaleLo, lowMidAgeMaleHi),
    mk(lowMidPeriodRange, lowMidPeriodTicks, lowMidPeriodBoth, lowMidPeriodBothLo, lowMidPeriodBothHi, lowMidPeriodFemale, lowMidPeriodFemaleLo, lowMidPeriodFemaleHi, lowMidPeriodMale, lowMidPeriodMaleLo, lowMidPeriodMaleHi),
    mk(lowMidCohortRange, lowMidCohortTicks, lowMidCohortBoth, lowMidCohortBothLo, lowMidCohortBothHi, lowMidCohortFemale, lowMidCohortFemaleLo, lowMidCohortFemaleHi, lowMidCohortMale, lowMidCohortMaleLo, lowMidCohortMaleHi),
  ],
  [
    mk(lowDriftRange, lowDriftTicks, lowDriftBoth, lowDriftBothLo, lowDriftBothHi, lowDriftFemale, lowDriftFemaleLo, lowDriftFemaleHi, lowDriftMale, lowDriftMaleLo, lowDriftMaleHi, lowNetDrift),
    mk(lowAgeRange, lowAgeTicks, lowAgeBoth, lowAgeBothLo, lowAgeBothHi, lowAgeFemale, lowAgeFemaleLo, lowAgeFemaleHi, lowAgeMale, lowAgeMaleLo, lowAgeMaleHi),
    mk(lowPeriodRange, lowPeriodTicks, lowPeriodBoth, lowPeriodBothLo, lowPeriodBothHi, lowPeriodFemale, lowPeriodFemaleLo, lowPeriodFemaleHi, lowPeriodMale, lowPeriodMaleLo, lowPeriodMaleHi),
    mk(lowCohortRange, lowCohortTicks, lowCohortBoth, lowCohortBothLo, lowCohortBothHi, lowCohortFemale, lowCohortFemaleLo, lowCohortFemaleHi, lowCohortMale, lowCohortMaleLo, lowCohortMaleHi),
  ],
];

// ---------------- helpers ----------------
const rgba = (hex: string, a: number) => {
  const n = parseInt(hex.slice(1), 16);
  return `rgba(${(n >> 16) & 255},${(n >> 8) & 255},${n & 255},${a})`;
};
const decimalsOf = (arr: number[]) =>
  Math.max(0, ...arr.map((v) => { const s = String(v); const i = s.indexOf("."); return i < 0 ? 0 : s.length - i - 1; }));
const fmt = (v: number, d: number) => { const s = Math.abs(v).toFixed(d); return v < -1e-9 ? "-" + s : s; };

const errorBarPlugin = {
  id: "apcErrorBars",
  beforeDatasetsDraw(chart: any) {
    const { ctx } = chart;
    const xs = chart.scales.x;
    const ys = chart.scales.y;
    chart.data.datasets.forEach((ds: any) => {
      if (!ds.errLo) return;
      ds.data.forEach((pt: any, j: number) => {
        const lo = ds.errLo[j];
        const hi = ds.errHi[j];
        if (lo == null || hi == null || Math.abs(hi - lo) < 1e-9) return;
        const x = xs.getPixelForValue(pt.x);
        const y1 = ys.getPixelForValue(lo);
        const y2 = ys.getPixelForValue(hi);
        ctx.save();
        ctx.lineCap = "butt";
        ctx.strokeStyle = rgba(ds.borderColor, 0.28);
        ctx.lineWidth = 2.4;
        ctx.beginPath(); ctx.moveTo(x, y1); ctx.lineTo(x, y2); ctx.stroke();
        ctx.strokeStyle = rgba(ds.borderColor, 0.85);
        ctx.lineWidth = 0.6;
        ctx.beginPath(); ctx.moveTo(x, y1); ctx.lineTo(x, y2); ctx.stroke();
        ctx.lineWidth = 0.7;
        ctx.beginPath();
        ctx.moveTo(x - 1.6, y1); ctx.lineTo(x + 1.6, y1);
        ctx.moveTo(x - 1.6, y2); ctx.lineTo(x + 1.6, y2);
        ctx.stroke();
        ctx.restore();
      });
    });
  },
};

function buildConfig(spec: Spec, col: number): any {
  const cfg = COLS[col];
  const datasets: any[] = [];
  spec.vals.forEach((vals, si) => {
    datasets.push({
      label: seriesNames[si],
      data: cfg.x.map((xv, i) => ({ x: xv, y: vals[i] })),
      errLo: spec.lo[si],
      errHi: spec.hi[si],
      borderColor: COLORS[si],
      backgroundColor: COLORS[si],
      borderWidth: col === 0 ? 1.1 : 0.8,
      pointRadius: 0.9,
      pointBorderWidth: 0,
      pointHoverRadius: 0,
      tension: col <= 1 ? 0.4 : 0,
      cubicInterpolationMode: col <= 1 ? "monotone" : "default",
      order: 3 - si,
    });
  });
  if (spec.net) {
    spec.net.forEach((v, si) => {
      datasets.push({
        label: seriesNames[si] + " net drift",
        data: [{ x: cfg.xMin, y: v }, { x: cfg.xMax, y: v }],
        borderColor: rgba(COLORS[si], 0.9),
        borderWidth: 0.8,
        borderDash: [3, 1.5, 1, 1.5],
        pointRadius: 0,
        order: 10 + si,
      });
    });
  }
  if (col >= 2) {
    datasets.push({
      label: "reference",
      data: [{ x: cfg.xMin, y: refRatio }, { x: cfg.xMax, y: refRatio }],
      borderColor: "#9a9a9a",
      borderWidth: 0.8,
      borderDash: [3, 2],
      pointRadius: 0,
      order: 20,
    });
  }
  const yDec = decimalsOf(spec.ticks);
  const tickFont = { family: FONT, size: 5.5 };
  return {
    type: "line",
    data: { datasets },
    plugins: [errorBarPlugin],
    options: {
      responsive: false,
      animation: false,
      devicePixelRatio: 1,
      events: [],
      layout: { padding: { top: PLOT_TOP, right: cfg.rPad + CANVAS_EXTRA, bottom: 0, left: 0 } },
      plugins: { legend: { display: false }, tooltip: { enabled: false }, title: { display: false } },
      scales: {
        x: {
          type: "linear",
          min: cfg.xMin,
          max: cfg.xMax,
          afterBuildTicks: (s: any) => { s.ticks = cfg.xTicks.map((v) => ({ value: v })); },
          afterFit: (s: any) => { s.height = ROW_H - PLOT_BOTTOM; s.paddingLeft = 0; s.paddingRight = 0; },
          grid: { display: true, drawOnChartArea: false, drawTicks: true, tickLength: 2, color: "#333", lineWidth: 0.5 },
          border: { display: true, color: "#000", width: 0.6 },
          ticks: { font: tickFont, color: "#444", padding: 0, maxRotation: 0, autoSkip: false, callback: (v: any) => String(v) },
          title: { display: true, text: cfg.xTitle, font: { family: FONT, size: 6.8 }, color: "#000", padding: { top: 0, bottom: 1.0 } },
        },
        y: {
          type: "linear",
          min: spec.range[0],
          max: spec.range[1],
          afterBuildTicks: (s: any) => { s.ticks = spec.ticks.map((v) => ({ value: v })); },
          afterFit: (s: any) => { s.width = cfg.yW; s.paddingTop = 0; s.paddingBottom = 0; },
          grid: { display: true, drawOnChartArea: false, drawTicks: true, tickLength: 2, color: "#333", lineWidth: 0.5 },
          border: { display: true, color: "#000", width: 0.6 },
          ticks: { font: tickFont, color: "#444", padding: 0.5, autoSkip: false, callback: (v: any) => fmt(Number(v), yDec) },
          title: { display: true, text: cfg.yTitle, font: { family: FONT, size: cfg.yTitleSize }, color: "#000", padding: { top: cfg.yTitlePad, bottom: 0 } },
        },
      },
    },
  };
}

function LegendKey({ color }: { color: string }) {
  return (
    <span style={{ position: "relative", display: "inline-block", width: 8, height: 7, background: "#ebebeb" }}>
      <span style={{ position: "absolute", left: 0, width: 8, top: 3, height: 1, background: color }} />
      <span style={{ position: "absolute", left: 3.5, width: 1, top: 1.2, height: 4.6, background: color, opacity: 0.8 }} />
    </span>
  );
}

function Panel({ spec, col, row }: { spec: Spec; col: number; row: number }) {
  const ref = useRef<HTMLCanvasElement | null>(null);
  const cfg = COLS[col];
  useEffect(() => {
    const chart = new Chart(ref.current as HTMLCanvasElement, buildConfig(spec, col));
    return () => chart.destroy();
  }, [spec, col]);
  const plotL = cfg.yW;
  const plotR = cfg.w - cfg.rPad;
  const cw = cfg.w + CANVAS_EXTRA;
  return (
    <div style={{ position: "absolute", left: cfg.left, top: ROW_TOPS[row], width: cfg.w, height: ROW_H }}>
      <canvas ref={ref} width={cw} height={ROW_H} style={{ position: "absolute", left: 0, top: 0, width: cw, height: ROW_H }} />
      <div style={{ position: "absolute", left: cfg.titleX, top: 1.5, fontFamily: FONT, fontSize: 7, lineHeight: "7px", whiteSpace: "nowrap", color: "#000" }}>
        {regionNames[row]}
      </div>
      <div style={{ position: "absolute", left: plotL, width: plotR - plotL, top: 12.2, height: 7, display: "flex", justifyContent: "center", alignItems: "center" }}>
        {seriesNames.map((n, i) => (
          <span key={n} style={{ display: "flex", alignItems: "center", marginRight: i < 2 ? 3 : 0 }}>
            <LegendKey color={COLORS[i]} />
            <span style={{ fontFamily: FONT, fontSize: 4.5, lineHeight: "7px", marginLeft: 1.5, color: "#1a1a1a", whiteSpace: "nowrap" }}>{n}</span>
          </span>
        ))}
      </div>
    </div>
  );
}

export default function App() {
  return (
    <div style={{ position: "absolute", left: 0, top: 0, width: 669, height: 797, background: "#fff", overflow: "hidden" }}>
      {ROWS.map((row, r) => row.map((spec, c) => <Panel key={`${r}-${c}`} spec={spec} col={c} row={r} />))}
    </div>
  );
}
